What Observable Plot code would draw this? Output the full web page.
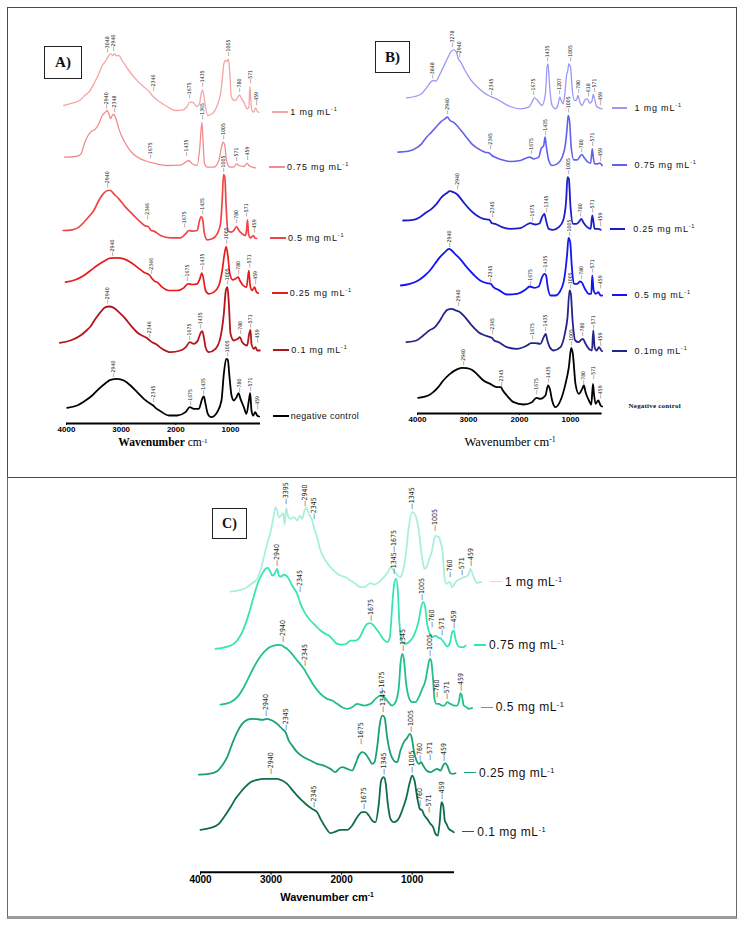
<!DOCTYPE html>
<html><head><meta charset="utf-8">
<script src="https://cdn.jsdelivr.net/npm/d3@7"></script>
<script src="https://cdn.jsdelivr.net/npm/@observablehq/plot@0.6"></script>
<style>
html,body{margin:0;padding:0;background:#fff;}
#page{position:relative;width:744px;height:927px;overflow:hidden;background:#fff;font-family:"Liberation Sans",Arial,sans-serif;}
.box{position:absolute;box-sizing:border-box;}
.tag{position:absolute;box-sizing:border-box;border:1px solid #222;display:flex;align-items:center;justify-content:center;font-family:"Liberation Serif","Times New Roman",serif;font-weight:bold;color:#111;}
.leg{position:absolute;white-space:nowrap;transform:translateY(-50%);line-height:1;color:#111;}
.leg sup{font-size:0.62em;vertical-align:0.55em;line-height:0;}
.legline{position:absolute;}
.title{position:absolute;white-space:nowrap;transform:translate(-50%,-50%);line-height:1;color:#000;}
.title sup{font-size:0.62em;vertical-align:0.5em;line-height:0;}
</style></head><body><div id="page"></div><script>
const ticksX = [4000, 3000, 2000, 1000];

// ---------- Panel A (wavenumber cm-1, offset intensity a.u.) ----------
const A_1mg = [[4049,954],[3896,961],[3744,971],[3652,986],[3591,994],[3500,1019],[3408,1049],[3347,1074],[3286,1087],[3244,1099],[3195,1109],[3152,1104],[3122,1109],[3085,1103],[3042,1104],[2981,1089],[2859,1059],[2737,1034],[2615,1014],[2493,997],[2432,984],[2390,977],[2310,967],[2158,951],[2005,939],[1865,941],[1792,951],[1743,964],[1682,963],[1621,951],[1572,957],[1536,989],[1511,1001],[1487,984],[1456,949],[1414,924],[1334,929],[1243,954],[1182,989],[1145,1039],[1121,1079],[1090,1089],[1060,1086],[1035,1094],[1011,1049],[987,984],[950,971],[907,969],[865,979],[834,986],[804,977],[755,964],[694,944],[663,949],[645,1011],[627,969],[608,939],[572,934],[541,947],[511,937],[480,933]];
const A_075 = [[4037,799],[3835,801],[3744,807],[3652,849],[3561,874],[3469,884],[3408,899],[3347,924],[3286,934],[3256,939],[3225,929],[3195,914],[3164,924],[3134,927],[3085,909],[3042,884],[2951,849],[2859,824],[2768,807],[2646,794],[2524,786],[2402,781],[2158,774],[1914,775],[1822,784],[1761,789],[1700,779],[1609,774],[1560,829],[1523,904],[1499,839],[1475,779],[1426,769],[1304,769],[1212,789],[1164,829],[1133,844],[1103,834],[1072,789],[1011,769],[938,769],[889,779],[846,774],[755,771],[694,781],[663,774],[602,769],[541,767]];
const A_05 = [[4061,579],[3896,581],[3774,589],[3652,609],[3573,624],[3500,639],[3408,669],[3317,691],[3244,699],[3195,699],[3134,689],[3042,674],[2920,649],[2798,629],[2676,609],[2573,594],[2493,589],[2451,579],[2402,577],[2280,564],[2097,557],[1914,557],[1822,569],[1761,579],[1700,577],[1609,579],[1566,609],[1536,621],[1511,614],[1475,569],[1426,551],[1334,554],[1243,569],[1182,599],[1151,669],[1127,747],[1103,739],[1078,649],[1048,579],[987,574],[938,579],[889,591],[846,579],[785,569],[724,564],[706,579],[688,611],[669,569],[633,557],[584,564],[554,557],[523,555]];
const A_025 = [[4018,424],[3835,431],[3683,444],[3561,459],[3439,474],[3317,487],[3195,496],[3073,497],[2951,494],[2829,484],[2707,469],[2585,454],[2475,444],[2432,434],[2390,427],[2341,424],[2249,409],[2127,399],[1975,399],[1853,407],[1780,419],[1700,417],[1609,419],[1560,434],[1523,451],[1499,439],[1456,399],[1395,389],[1304,394],[1212,414],[1151,459],[1109,509],[1078,531],[1048,504],[1011,449],[956,431],[907,434],[858,439],[828,429],[767,414],[706,409],[663,459],[639,414],[602,399],[560,409],[523,394],[492,391]];
const A_01 = [[4122,242],[3927,249],[3744,264],[3634,279],[3561,291],[3469,314],[3378,334],[3286,349],[3225,351],[3134,347],[3042,334],[2920,314],[2798,289],[2676,269],[2536,257],[2475,249],[2432,244],[2371,239],[2249,224],[2097,214],[1914,219],[1816,229],[1743,244],[1670,239],[1597,249],[1548,271],[1517,277],[1487,259],[1456,229],[1395,214],[1273,224],[1182,259],[1121,329],[1084,399],[1054,409],[1029,359],[999,269],[938,249],[865,254],[828,259],[785,244],[694,234],[657,269],[633,281],[615,239],[572,224],[543,229],[506,219],[462,219]];
const A_neg = [[3988,47],[3805,54],[3652,69],[3530,84],[3408,104],[3286,121],[3195,131],[3073,134],[2951,129],[2829,114],[2707,94],[2585,74],[2463,59],[2414,54],[2371,47],[2280,37],[2127,24],[1975,24],[1822,34],[1743,49],[1670,44],[1578,44],[1517,74],[1487,81],[1456,59],[1414,29],[1353,19],[1243,34],[1164,69],[1121,149],[1078,194],[1048,191],[1017,139],[980,84],[938,69],[889,79],[852,91],[816,74],[755,49],[706,29],[663,69],[639,91],[615,39],[584,24],[547,34],[511,24],[474,21]];
// peak annotations: [label, wavenumber, intensity]
const pkA_1mg = [["3048",3244,1109],["2940",3134,1114],["2346",2420,994],["1675",1749,971],["1435",1523,1007],["1005",1042,1099],["780",840,991],["571",645,1017],["459",535,951]];
const pkA_075 = [["2940",3268,941],["2348",3116,931],["1675",2475,791],["1435",1804,799],["1365",1517,909],["1005",1133,849],["571",889,784],["459",682,787]];
const pkA_05 = [["2940",3244,704],["2346",2524,609],["1675",1841,584],["1435",1517,624],["1005",1133,751],["780",889,597],["571",706,617],["459",560,569]];
const pkA_025 = [["2940",3164,499],["2346",2451,444],["1675",1792,424],["1435",1517,457],["1005",1078,536],["780",858,444],["571",663,464],["459",541,414]];
const pkA_01 = [["2940",3256,356],["2346",2481,254],["1675",1761,247],["1435",1560,281],["1005",1054,413],["780",828,264],["571",639,284],["459",511,239]];
const pkA_neg = [["2940",3146,136],["2345",2414,61],["1675",1743,51],["1435",1499,84],["1005",1060,197],["780",846,91],["571",639,94],["459",511,39]];
const namesA = ["1 mg mL", "0.75 mg mL", "0.5 mg mL", "0.25 mg mL", "0.1 mg mL", "negative control"];

// ---------- Panel B ----------
const B_1mg = [[4217,947],[4053,951],[3921,959],[3823,977],[3744,994],[3691,999],[3639,997],[3573,1014],[3494,1039],[3416,1064],[3350,1084],[3297,1091],[3245,1087],[3199,1064],[3153,1054],[3068,1029],[2969,1004],[2838,981],[2707,964],[2608,954],[2542,949],[2457,944],[2345,934],[2181,921],[1984,914],[1820,919],[1754,934],[1708,947],[1656,941],[1557,924],[1492,959],[1459,1039],[1439,1049],[1413,989],[1360,924],[1295,914],[1249,924],[1209,949],[1183,939],[1144,929],[1111,959],[1078,1014],[1052,1029],[1032,1049],[999,1039],[967,974],[921,939],[881,941],[855,954],[815,934],[770,924],[717,941],[671,944],[619,931],[579,937],[553,957],[527,944],[487,921],[441,917],[380,914]];
const B_075 = [[4381,784],[4184,787],[4053,794],[3921,809],[3823,829],[3724,844],[3626,861],[3527,877],[3462,884],[3416,889],[3363,879],[3297,874],[3199,859],[3068,834],[2936,809],[2805,794],[2674,784],[2588,781],[2542,774],[2477,769],[2345,761],[2181,756],[1984,759],[1853,767],[1800,769],[1722,764],[1623,769],[1577,794],[1525,804],[1498,829],[1472,799],[1426,759],[1360,744],[1262,749],[1163,769],[1098,809],[1065,859],[1045,894],[1019,879],[986,799],[934,761],[868,761],[815,771],[776,777],[737,769],[658,754],[605,751],[573,794],[553,769],[527,749],[474,749],[422,751],[380,744]];
const B_025 = [[4282,579],[4085,581],[3954,589],[3823,604],[3724,614],[3626,629],[3527,649],[3429,661],[3363,667],[3297,664],[3219,657],[3100,634],[2969,611],[2838,594],[2707,584],[2588,581],[2542,571],[2477,569],[2345,559],[2181,554],[1984,556],[1853,567],[1787,571],[1689,567],[1603,571],[1557,589],[1511,599],[1479,579],[1426,554],[1341,551],[1229,559],[1144,579],[1085,639],[1058,709],[1032,704],[999,619],[947,569],[881,569],[822,577],[789,584],[750,574],[671,559],[605,554],[573,594],[553,579],[527,554],[461,554],[408,551]];
const B_05 = [[4328,384],[4151,389],[3987,399],[3856,414],[3757,429],[3659,449],[3560,469],[3462,484],[3383,494],[3330,489],[3265,479],[3166,464],[3035,439],[2903,417],[2772,399],[2641,391],[2562,389],[2510,379],[2411,371],[2247,357],[2050,359],[1886,371],[1800,381],[1708,377],[1623,381],[1557,409],[1511,419],[1479,414],[1446,379],[1393,354],[1295,354],[1196,369],[1117,409],[1065,479],[1039,527],[1006,514],[973,439],[934,389],[868,389],[815,396],[782,394],[717,374],[639,359],[592,359],[573,414],[546,369],[500,359],[455,364],[408,354],[380,354]];
const B_01 = [[4217,214],[4020,219],[3888,234],[3770,249],[3659,259],[3560,279],[3481,299],[3416,311],[3330,314],[3245,309],[3166,304],[3068,289],[2936,264],[2805,244],[2674,234],[2542,227],[2496,219],[2411,214],[2247,199],[2050,194],[1853,204],[1774,211],[1689,211],[1590,209],[1525,229],[1486,239],[1453,219],[1406,199],[1328,189],[1196,199],[1111,239],[1058,289],[1019,369],[993,359],[959,279],[907,219],[842,214],[789,221],[757,224],[704,209],[619,191],[579,189],[553,249],[527,199],[487,189],[441,199],[395,189],[380,187]];
const B_neg = [[3987,47],[3790,54],[3691,64],[3593,79],[3494,99],[3363,119],[3245,131],[3133,137],[3035,136],[2936,131],[2838,119],[2707,99],[2575,89],[2444,79],[2365,79],[2326,69],[2247,54],[2116,34],[1919,27],[1754,34],[1669,47],[1590,44],[1492,54],[1439,84],[1406,74],[1360,39],[1295,19],[1196,39],[1098,89],[1032,139],[986,197],[954,179],[902,89],[836,59],[770,74],[737,84],[704,64],[638,39],[592,27],[559,89],[540,59],[507,29],[455,39],[408,24],[380,21]];
const pkB_1mg = [["3848",3705,1001],["3278",3317,1096],["2940",3179,1064],["2345",2555,952],["1675",1722,952],["1435",1446,1052],["1207",1209,954],["1005",1012,1053],["780",855,957],["618",658,947],["571",540,961],["459",408,921]];
const pkB_075 = [["2940",3416,894],["2345",2575,789],["1675",1774,774],["1435",1492,831],["1005",1052,899],["780",789,779],["571",573,799],["459",422,753]];
const pkB_025 = [["2940",3219,669],["2345",2523,584],["1675",1754,574],["1345",1472,601],["1005",1039,714],["780",802,587],["571",573,599],["459",422,559]];
const pkB_05 = [["2940",3383,496],["2345",2575,391],["1675",1787,381],["1435",1492,421],["1005",1032,529],["780",783,399],["571",573,419],["459",422,371]];
const pkB_01 = [["2940",3199,319],["2345",2523,234],["1675",1754,219],["1435",1486,244],["1005",1012,371],["780",770,229],["571",553,251],["459",422,199]];
const pkB_neg = [["2940",3100,141],["2345",2358,79],["1675",1676,54],["1435",1439,89],["1005",986,201],["780",750,84],["571",559,99],["459",408,41]];
const namesB = ["1 mg mL", "0.75 mg mL", "0.25 mg mL", "0.5 mg mL", "0.1mg mL", "Negative control"];

// ---------- Panel C ----------
const C_1mg = [[3575,842],[3433,847],[3339,855],[3268,867],[3197,880],[3150,905],[3102,945],[3055,985],[3008,1020],[2970,1060],[2937,1095],[2913,1085],[2890,1065],[2857,1070],[2828,1077],[2805,1043],[2786,1093],[2762,1070],[2725,1060],[2677,1065],[2630,1055],[2592,1070],[2559,1060],[2526,1085],[2498,1093],[2479,1085],[2451,1070],[2417,1055],[2394,1035],[2361,1015],[2299,965],[2229,935],[2158,915],[2087,900],[2016,890],[1945,885],[1874,875],[1803,865],[1732,855],[1662,857],[1591,867],[1534,863],[1473,870],[1402,885],[1345,900],[1307,915],[1260,905],[1213,893],[1175,885],[1142,895],[1095,945],[1048,1035],[1000,1080],[953,1070],[906,1025],[873,965],[844,925],[826,910],[788,920],[750,945],[717,965],[693,995],[670,1010],[646,1007],[618,1005],[599,990],[570,965],[542,885],[514,865],[481,870],[457,867],[433,855],[400,865],[363,875],[315,880],[268,885],[230,887],[197,895],[174,910],[145,895],[117,880],[79,867],[51,870],[18,870]];
const C_075 = [[3787,670],[3646,675],[3528,685],[3433,710],[3362,745],[3315,775],[3268,810],[3221,845],[3173,875],[3126,895],[3079,910],[3046,913],[3017,905],[2984,890],[2951,895],[2913,910],[2890,890],[2857,887],[2819,893],[2786,890],[2748,880],[2701,860],[2630,835],[2583,805],[2512,775],[2441,755],[2370,740],[2299,725],[2229,715],[2181,710],[2120,697],[2063,685],[1992,683],[1921,687],[1874,695],[1803,695],[1742,705],[1685,730],[1638,745],[1591,747],[1534,737],[1473,720],[1411,700],[1355,690],[1317,705],[1284,795],[1255,865],[1227,880],[1203,845],[1180,745],[1142,690],[1095,685],[1048,690],[977,710],[906,755],[873,795],[844,810],[816,795],[788,745],[750,715],[717,705],[670,710],[622,703],[589,700],[551,690],[504,677],[466,687],[433,720],[410,725],[386,700],[353,680],[315,675],[268,675],[244,680]];
const C_05 = [[3717,503],[3575,510],[3480,525],[3386,555],[3315,585],[3244,615],[3173,640],[3102,660],[3032,673],[2961,680],[2890,682],[2843,680],[2810,675],[2772,670],[2725,660],[2630,635],[2536,610],[2465,585],[2394,560],[2299,535],[2205,520],[2134,515],[2063,505],[1992,495],[1921,490],[1851,495],[1780,505],[1685,500],[1591,505],[1520,520],[1449,530],[1402,527],[1355,515],[1284,500],[1236,510],[1189,555],[1166,625],[1142,655],[1118,640],[1090,575],[1048,525],[1000,510],[953,510],[906,525],[858,550],[811,575],[778,615],[750,640],[731,635],[703,575],[684,520],[655,505],[622,505],[575,500],[542,500],[504,510],[457,505],[400,500],[363,500],[334,515],[315,537],[296,530],[268,500],[230,495],[197,490],[150,493]];
const C_025 = [[4024,293],[3882,295],[3764,303],[3693,320],[3622,345],[3551,385],[3480,420],[3410,445],[3339,457],[3268,460],[3197,459],[3126,457],[3055,460],[2984,455],[2913,445],[2843,430],[2795,420],[2748,395],[2701,380],[2630,360],[2536,345],[2441,335],[2347,325],[2252,320],[2158,310],[2087,300],[2040,310],[1992,315],[1921,310],[1851,305],[1803,325],[1756,350],[1709,360],[1662,355],[1614,340],[1567,325],[1534,330],[1496,375],[1458,445],[1425,470],[1392,465],[1355,405],[1307,355],[1260,335],[1213,330],[1166,365],[1118,390],[1071,403],[1033,415],[1005,403],[977,365],[939,335],[906,325],[873,330],[844,320],[797,305],[740,300],[693,305],[646,310],[599,305],[561,320],[533,327],[504,320],[457,297],[419,295],[386,297]];
const C_01 = [[4000,127],[3858,133],[3740,145],[3669,165],[3575,195],[3504,220],[3433,240],[3362,257],[3291,270],[3197,277],[3102,280],[3008,280],[2913,280],[2843,275],[2772,265],[2701,247],[2630,230],[2536,210],[2441,193],[2394,187],[2347,180],[2299,160],[2229,135],[2158,117],[2087,122],[2016,127],[1921,127],[1851,140],[1780,165],[1709,180],[1662,180],[1614,170],[1567,155],[1520,150],[1473,205],[1440,275],[1402,285],[1374,265],[1345,205],[1307,160],[1260,150],[1203,157],[1142,185],[1081,225],[1033,270],[1000,290],[967,275],[929,225],[892,190],[858,185],[826,170],[788,160],[740,145],[703,135],[670,115],[636,110],[608,155],[585,210],[561,200],[537,155],[514,145],[481,130],[447,125],[410,120]];
const pkC_1mg = [["3395",2795,1100],["2940",2526,1093],["2345",2394,1055],["1345",1000,1085],["1005",679,1020],["760",471,880],["571",292,887],["459",174,915]];
const pkC_075 = [["2940",2913,915],["2345",2592,837],["1345\u20141675",1255,890],["1675",1591,750],["1005",859,813],["760",717,730],["571",585,707],["459",410,727]];
const pkC_05 = [["2940",2833,687],["2345",2521,615],["1675",1430,532],["1345",1133,660],["1005",750,645],["760",646,520],["571",504,515],["459",306,540]];
const pkC_025 = [["2940",3079,465],["2345",2795,422],["1675",1732,380],["1345",1416,477],["1005",1014,417],["760",892,330],["571",750,333],["459",551,330]];
const pkC_01 = [["2940",3008,290],["2345",2394,190],["1675",1685,185],["1345",1402,289],["1005",1000,295],["760",892,195],["571",764,175],["459",575,215]];
const namesC = ["1 mg mL", "0.75 mg mL", "0.5 mg mL", "0.25 mg mL", "0.1 mg mL"];

// ---------- rendering ----------
const page = document.getElementById("page");
function add(cls, css, html) {
  const d = document.createElement("div");
  if (cls) d.className = cls;
  Object.assign(d.style, css);
  if (html != null) d.innerHTML = html;
  page.appendChild(d);
  return d;
}

// outer frames
add("box", {left: "7px", top: "7px", width: "730px", height: "471px", border: "1px solid #4a4a4a"});
add("box", {left: "7px", top: "477px", width: "730px", height: "442px", borderLeft: "1px solid #6a6a6a", borderRight: "1px solid #6a6a6a", borderBottom: "3px solid #9c9c9c"});

const peakFont = "'Liberation Sans Narrow','DejaVu Sans Condensed','Arial Narrow',sans-serif";

function panel(cfg) {
  const xs = d3.scaleLinear(cfg.xDomain, [cfg.left + cfg.mL, cfg.left + cfg.width - cfg.mR]);
  const ys = d3.scaleLinear([0, 1200], [cfg.top + cfg.height - cfg.mB, cfg.top + cfg.mT]);
  const marks = [];
  cfg.curves.forEach(c => marks.push(Plot.line(c.data, {x: d => d[0], y: d => d[1], stroke: c.color, strokeWidth: c.width, curve: "monotone-x"})));
  marks.push(Plot.ruleY([0], {stroke: "#000", strokeWidth: 2}));
  cfg.curves.forEach(c => marks.push(Plot.text(c.peaks, {
    x: d => d[1], y: d => d[2], text: d => "\u2014" + d[0],
    rotate: -90, textAnchor: "start", lineAnchor: "middle",
    fontSize: cfg.peakSize, fontFamily: peakFont, fontWeight: "normal", fill: "#262626", dy: -1
  })));
  const chart = Plot.plot({
    width: cfg.width, height: cfg.height,
    marginLeft: cfg.mL, marginRight: cfg.mR, marginTop: cfg.mT, marginBottom: cfg.mB,
    style: {background: "transparent", overflow: "visible", fontFamily: "'Liberation Sans',Arial,sans-serif", fontSize: cfg.tickSize + "px", fontWeight: "bold", color: "#000"},
    x: {domain: cfg.xDomain, ticks: ticksX, tickFormat: d => String(d), tickSize: cfg.tickLen, tickPadding: 1, label: null},
    y: {domain: [0, 1200], axis: null},
    marks
  });
  chart.style.position = "absolute";
  chart.style.left = cfg.left + "px";
  chart.style.top = cfg.top + "px";
  chart.style.maxWidth = "none";
  page.appendChild(chart);

  const L = cfg.legend;
  cfg.curves.forEach(c => {
    const last = c.data[c.data.length - 1];
    const px = xs(last[0]), py = ys(last[1]);
    let tx;
    if (!c.noLine) {
      add("legline", {left: (px + L.gap) + "px", top: (py - c.legW / 2) + "px", width: L.len + "px", height: c.legW + "px", background: c.color});
      tx = px + L.gap + L.len + L.tgap;
    } else {
      tx = px + c.textGap;
    }
    const html = c.unit ? c.name + "<sup>-1</sup>" : c.name;
    add("leg", Object.assign({left: tx + "px", top: py + "px", fontSize: L.size + "px", letterSpacing: L.spacing + "px"}, c.font || {}), html);
  });
}

const colA = ["#f5a5a5", "#f28c8c", "#ef4444", "#ea1a1a", "#b3151b", "#000000"];
const colB = ["#9999f5", "#6161ee", "#1b1bcf", "#1515f2", "#24248e", "#000000"];
const colC = ["#a8f0dc", "#35e5b3", "#22bf8e", "#19a074", "#0f6d49"];

panel({
  left: 30, top: 20, width: 340, height: 440, mL: 36, mR: 110, mT: 3, mB: 37,
  xDomain: [4000, 450], tickSize: 8, tickLen: 2, peakSize: 5.2,
  legend: {gap: 14, len: 16, tgap: 2, size: 9, spacing: 0.8},
  curves: [
    {data: A_1mg, peaks: pkA_1mg, color: colA[0], width: 1.3, legW: 2, name: namesA[0], unit: true},
    {data: A_075, peaks: pkA_075, color: colA[1], width: 1.3, legW: 2, name: namesA[1], unit: true},
    {data: A_05, peaks: pkA_05, color: colA[2], width: 1.7, legW: 2, name: namesA[2], unit: true},
    {data: A_025, peaks: pkA_025, color: colA[3], width: 1.7, legW: 2.2, name: namesA[3], unit: true},
    {data: A_01, peaks: pkA_01, color: colA[4], width: 1.8, legW: 2.2, name: namesA[4], unit: true},
    {data: A_neg, peaks: pkA_neg, color: colA[5], width: 1.8, legW: 2.5, name: namesA[5], unit: false, font: {letterSpacing: "0.3px"}}
  ]
});

panel({
  left: 380, top: 10, width: 360, height: 440, mL: 37, mR: 138.4, mT: 3, mB: 37,
  xDomain: [4000, 380], tickSize: 8, tickLen: 2, peakSize: 5.2,
  legend: {gap: 10, len: 15, tgap: 8, size: 9, spacing: 0.8},
  curves: [
    {data: B_1mg, peaks: pkB_1mg, color: colB[0], width: 1.3, legW: 2, name: namesB[0], unit: true},
    {data: B_075, peaks: pkB_075, color: colB[1], width: 1.6, legW: 2, name: namesB[1], unit: true},
    {data: B_025, peaks: pkB_025, color: colB[2], width: 1.8, legW: 2.2, name: namesB[2], unit: true},
    {data: B_05, peaks: pkB_05, color: colB[3], width: 1.8, legW: 2.2, name: namesB[3], unit: true},
    {data: B_01, peaks: pkB_01, color: colB[4], width: 1.8, legW: 2.2, name: namesB[4], unit: true},
    {data: B_neg, peaks: pkB_neg, color: colB[5], width: 1.8, legW: 2, name: namesB[5], unit: false, noLine: true, textGap: 27,
     font: {fontFamily: "'Liberation Serif','Times New Roman',serif", fontWeight: "bold", fontSize: "7px", letterSpacing: "0.2px"}}
  ]
});

panel({
  left: 150, top: 470, width: 440, height: 430, mL: 50, mR: 136, mT: 1.7, mB: 28.3,
  xDomain: [4000, 400], tickSize: 10, tickLen: 3, peakSize: 7,
  legend: {gap: 9, len: 12, tgap: 3, size: 12, spacing: 0.5},
  curves: [
    {data: C_1mg, peaks: pkC_1mg, color: colC[0], width: 1.8, legW: 1.5, name: namesC[0], unit: true},
    {data: C_075, peaks: pkC_075, color: colC[1], width: 1.8, legW: 1.5, name: namesC[1], unit: true},
    {data: C_05, peaks: pkC_05, color: colC[2], width: 1.8, legW: 1.5, name: namesC[2], unit: true},
    {data: C_025, peaks: pkC_025, color: colC[3], width: 1.8, legW: 1.5, name: namesC[3], unit: true},
    {data: C_01, peaks: pkC_01, color: colC[4], width: 1.8, legW: 1.5, name: namesC[4], unit: true}
  ]
});

// panel tags
add("tag", {left: "44px", top: "46px", width: "38px", height: "33px", fontSize: "15px"}, "A)");
add("tag", {left: "375px", top: "41px", width: "35px", height: "32px", fontSize: "15px"}, "B)");
add("tag", {left: "212px", top: "508px", width: "35px", height: "31px", fontSize: "14px"}, "C)");

// axis titles
add("title", {left: "163px", top: "443px", fontFamily: "'Liberation Serif','Times New Roman',serif", fontSize: "11.5px"}, "<b>Wavenumber</b> cm<sup>-1</sup>");
add("title", {left: "510px", top: "442px", fontFamily: "'Liberation Serif','Times New Roman',serif", fontSize: "12.5px"}, "Wavenumber cm<sup>-1</sup>");
add("title", {left: "327px", top: "897px", fontFamily: "'Liberation Sans',Arial,sans-serif", fontWeight: "bold", fontSize: "11px"}, "Wavenumber cm<sup>-1</sup>");
</script></body></html>
